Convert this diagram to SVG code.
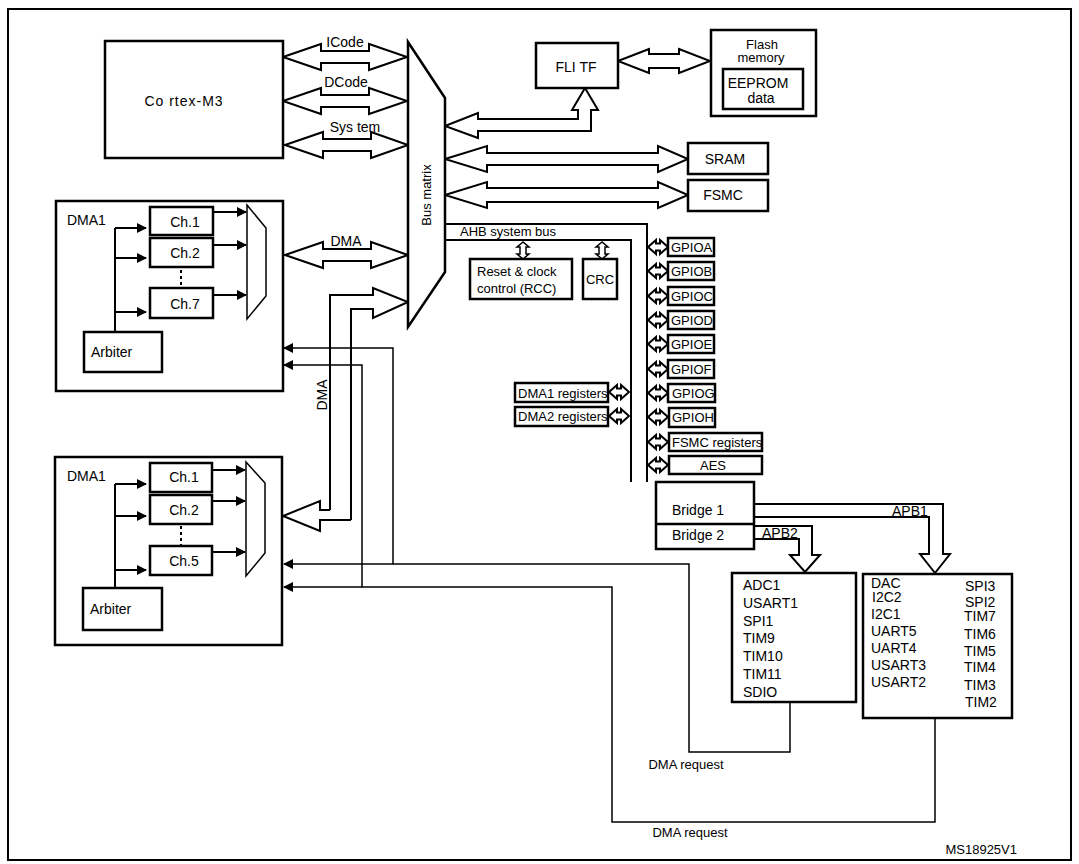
<svg xmlns="http://www.w3.org/2000/svg" width="1079" height="864" viewBox="0 0 1079 864">
<defs>
<marker id="ah" markerWidth="10" markerHeight="10" refX="9" refY="5" orient="auto" markerUnits="userSpaceOnUse"><path d="M0,0 L10,5 L0,10 z" fill="#000"/></marker>
<g id="dh"><path d="M0,0 l8,-7 v3.5 h4 v-3.5 l8,7 l-8,7 v-3.5 h-4 v3.5 z" fill="#fff" stroke="#000" stroke-width="2"/></g>
<g id="dv"><path d="M0,0 l-6,5 h3 v7 h-3 l6,5 l6,-5 h-3 v-7 h3 z" fill="#fff" stroke="#000" stroke-width="1.5"/></g>
</defs>
<style>
text{font-family:"Liberation Sans",Arial,sans-serif;font-size:14px;fill:#000}
.b{fill:#fff;stroke:#000;stroke-width:2.5}
.t{fill:none;stroke:#000;stroke-width:1.5}
.l{fill:none;stroke:#000;stroke-width:2}
.w{fill:#fff;stroke:#000;stroke-width:2}
.s{font-size:13px}
.g{font-size:13px}
</style>
<rect x="8" y="9" width="1063" height="851" fill="#fff" stroke="#000" stroke-width="2"/>

<g id="connectors">
<path class="w" d="M283,57 l38,-13 v7 h48 v-7 l38,13 l-38,13 v-7 h-48 v7 z"/>
<path class="w" d="M283,101 l38,-13 v7 h48 v-7 l38,13 l-38,13 v-7 h-48 v7 z"/>
<path class="w" d="M285,145 l38,-13 v7 h48 v-7 l37,13 l-37,13 v-7 h-48 v7 z"/>
<path class="w" d="M285,255 l38,-13 v7 h48 v-7 l37,13 l-37,13 v-7 h-48 v7 z"/>
<path class="w" d="M618,61 l31,-12 v5 h30 v-5 l31,12 l-31,12 v-5 h-30 v5 z"/>
<path class="w" d="M445,126 L478,113 L478,119 L578,119 L578,110 L572,110 L585,88 L598,110 L591,110 L591,131 L478,131 L478,138 Z"/>
<path class="w" d="M445,159 l42,-13 v7 h171 v-7 l30,13 l-30,13 v-7 h-171 v7 z"/>
<path class="w" d="M445,195 l42,-13 v6 h171 v-6 l30,13 l-30,13 v-6 h-171 v6 z"/>
<path class="l" d="M330,510 V295 H373 V288 L408,302 L373,318 V309 H351 V520"/>
<path class="l" d="M330,510 H320 V501 L283,516 L320,531 V520 H351"/>
<path class="l" d="M445,224 H647 V482 M445,240 H631 V482"/>
<use href="#dv" x="523" y="242"/>
<use href="#dv" x="602" y="242"/>
<use href="#dh" x="648" y="247"/>
<use href="#dh" x="648" y="271"/>
<use href="#dh" x="648" y="296"/>
<use href="#dh" x="648" y="320"/>
<use href="#dh" x="648" y="344"/>
<use href="#dh" x="648" y="369"/>
<use href="#dh" x="648" y="393"/>
<use href="#dh" x="648" y="417"/>
<use href="#dh" x="648" y="442"/>
<use href="#dh" x="648" y="465"/>
<use href="#dh" x="609" y="392"/>
<use href="#dh" x="609" y="416"/>
<path class="l" d="M754,504 H943 V554 H950 L935,573 L920,554 H929 V517 H754"/>
<path class="l" d="M754,526 H812 V555 H820 L805,572 L790,555 H799 V539 H754"/>
<path class="t" d="M790,702 V752 H689 V564 H393 V348 H330"/>
<path class="t" d="M935,718 V822 H612 V587 H362 V365 H330"/>
<path class="t" d="M330,348 H284" marker-end="url(#ah)"/>
<path class="t" d="M330,365 H284" marker-end="url(#ah)"/>
<path class="t" d="M393,564 H284" marker-end="url(#ah)"/>
<path class="t" d="M362,587 H284" marker-end="url(#ah)"/>
</g>

<g id="cortex"><rect class="b" x="105" y="41" width="178" height="117"/><text x="184" y="106" text-anchor="middle" letter-spacing="1">Co rtex-M3</text></g>
<text x="345" y="47" text-anchor="middle">ICode</text>
<text x="346" y="87" text-anchor="middle">DCode</text>
<text x="355" y="132" text-anchor="middle">Sys tem</text>
<text x="346" y="246" text-anchor="middle">DMA</text>
<text transform="translate(327,395) rotate(-90)" text-anchor="middle" font-size="15">DMA</text>

<g id="busmatrix"><path class="b" d="M408,42 L445,98 L445,272 L408,327 Z"/><text class="s" transform="translate(431,195) rotate(-90)" text-anchor="middle">Bus matrix</text></g>

<g id="dma1a">
<rect class="b" x="56" y="201" width="227" height="190"/>
<text x="67" y="225" font-size="15">DMA1</text>
<rect class="b" x="150" y="207" width="63" height="28"/><text x="185" y="227" text-anchor="middle" font-size="15">Ch.1</text>
<rect class="b" x="150" y="238" width="63" height="29"/><text x="185" y="258" text-anchor="middle" font-size="15">Ch.2</text>
<line x1="181" y1="270" x2="181" y2="288" stroke="#000" stroke-width="2" stroke-dasharray="3,3"/>
<rect class="b" x="150" y="288" width="63" height="30"/><text x="185" y="309" text-anchor="middle" font-size="15">Ch.7</text>
<rect class="b" x="84" y="332" width="78" height="40"/><text x="91" y="357" font-size="15">Arbiter</text>
<path class="l" d="M115,332 V228"/>
<path class="l" d="M115,228 H146" marker-end="url(#ah)"/><path class="l" d="M115,258 H146" marker-end="url(#ah)"/><path class="l" d="M115,312 H146" marker-end="url(#ah)"/>
<path class="l" d="M213,212 H246" marker-end="url(#ah)"/><path class="l" d="M213,245 H246" marker-end="url(#ah)"/><path class="l" d="M213,295 H246" marker-end="url(#ah)"/>
<path class="t" d="M247,205 L266,228 L266,296 L247,319 Z" fill="#fff"/>
</g>

<g id="dma1b">
<rect class="b" x="55" y="457" width="227" height="188"/>
<text x="67" y="481" font-size="15">DMA1</text>
<rect class="b" x="150" y="463" width="62" height="29"/><text x="184" y="482" text-anchor="middle" font-size="15">Ch.1</text>
<rect class="b" x="150" y="495" width="62" height="29"/><text x="184" y="515" text-anchor="middle" font-size="15">Ch.2</text>
<line x1="181" y1="526" x2="181" y2="545" stroke="#000" stroke-width="2" stroke-dasharray="3,3"/>
<rect class="b" x="150" y="546" width="62" height="29"/><text x="184" y="566" text-anchor="middle" font-size="15">Ch.5</text>
<rect class="b" x="83" y="588" width="79" height="42"/><text x="90" y="614" font-size="15">Arbiter</text>
<path class="l" d="M115,588 V484"/>
<path class="l" d="M115,484 H146" marker-end="url(#ah)"/><path class="l" d="M115,516 H146" marker-end="url(#ah)"/><path class="l" d="M115,570 H146" marker-end="url(#ah)"/>
<path class="l" d="M212,470 H245" marker-end="url(#ah)"/><path class="l" d="M212,501 H245" marker-end="url(#ah)"/><path class="l" d="M212,552 H245" marker-end="url(#ah)"/>
<path class="t" d="M246,462 L265,483 L265,553 L246,576 Z" fill="#fff"/>
</g>

<g id="flitf"><rect class="b" x="536" y="43" width="82" height="45"/><text x="576" y="72" text-anchor="middle">FLI TF</text></g>
<g id="flash"><rect class="b" x="711" y="30" width="105" height="86"/><text x="762" y="49" text-anchor="middle" class="s">Flash</text><text x="761" y="62" text-anchor="middle" class="s">memory</text>
<rect class="b" x="723" y="69" width="80" height="40"/><text x="758" y="88" text-anchor="middle">EEPROM</text><text x="761" y="103" text-anchor="middle">data</text></g>
<g id="sram"><rect class="b" x="688" y="143" width="80" height="31"/><text x="725" y="164" text-anchor="middle">SRAM</text></g>
<g id="fsmc"><rect class="b" x="688" y="180" width="80" height="31"/><text x="723" y="200" text-anchor="middle">FSMC</text></g>
<text x="460" y="236" class="s">AHB  system  bus</text>
<g id="rcc"><rect class="b" x="470" y="259" width="102" height="40"/><text x="477" y="276" class="s">Reset &amp; clock</text><text x="477" y="293" class="s">control (RCC)</text></g>
<g id="crc"><rect class="b" x="583" y="259" width="34" height="40"/><text x="600" y="284" text-anchor="middle" class="s">CRC</text></g>

<g id="gpio">
<rect class="b" x="668" y="238" width="46" height="18"/><text x="671" y="252" class="g">GPIOA</text>
<rect class="b" x="668" y="262" width="46" height="18"/><text x="671" y="276" class="g">GPIOB</text>
<rect class="b" x="668" y="287" width="46" height="18"/><text x="671" y="301" class="g">GPIOC</text>
<rect class="b" x="668" y="311" width="46" height="18"/><text x="671" y="325" class="g">GPIOD</text>
<rect class="b" x="668" y="335" width="46" height="18"/><text x="671" y="349" class="g">GPIOE</text>
<rect class="b" x="668" y="360" width="46" height="18"/><text x="671" y="374" class="g">GPIOF</text>
<rect class="b" x="668" y="384" width="47" height="18"/><text x="672" y="398" class="g">GPIOG</text>
<rect class="b" x="669" y="408" width="46" height="19"/><text x="672" y="422" class="g">GPIOH</text>
<rect class="b" x="669" y="433" width="93" height="18"/><text x="672" y="447" class="g">FSMC registers</text>
<rect class="b" x="669" y="456" width="93" height="18"/><text x="713" y="470" text-anchor="middle" class="g">AES</text>
</g>
<g id="dmaregs">
<rect class="b" x="515" y="383" width="93" height="19"/><text x="518" y="398" class="g">DMA1 registers</text>
<rect class="b" x="515" y="407" width="93" height="19"/><text x="518" y="421" class="g">DMA2 registers</text>
</g>
<g id="bridges"><rect class="b" x="656" y="482" width="98" height="67"/><line x1="656" y1="524" x2="754" y2="524" stroke="#000" stroke-width="2.5"/>
<text x="672" y="515">Bridge   1</text><text x="672" y="540">Bridge    2</text></g>
<text x="892" y="516">APB1</text>
<text x="762" y="538">APB2</text>

<g id="apb2"><rect class="b" x="732" y="573" width="124" height="129"/>
<text x="743" y="590">ADC1</text><text x="743" y="608">USART1</text><text x="743" y="626">SPI1</text><text x="743" y="643">TIM9</text><text x="743" y="661">TIM10</text><text x="743" y="679">TIM11</text><text x="743" y="697">SDIO</text></g>
<g id="apb1"><rect class="b" x="863" y="574" width="149" height="144"/>
<text x="871" y="588">DAC</text><text x="872" y="602">I2C2</text><text x="871" y="619">I2C1</text><text x="871" y="636">UART5</text><text x="871" y="653">UART4</text><text x="871" y="670">USART3</text><text x="871" y="687">USART2</text>
<text x="965" y="591">SPI3</text><text x="965" y="607">SPI2</text><text x="964" y="621">TIM7</text><text x="964" y="639">TIM6</text><text x="964" y="656">TIM5</text><text x="964" y="672">TIM4</text><text x="964" y="690">TIM3</text><text x="965" y="707">TIM2</text></g>

<text x="686" y="769" class="s" text-anchor="middle">DMA  request</text>
<text x="690" y="837" class="s" text-anchor="middle">DMA  request</text>
<text x="1017" y="854" class="s" text-anchor="end">MS18925V1</text>
</svg>
